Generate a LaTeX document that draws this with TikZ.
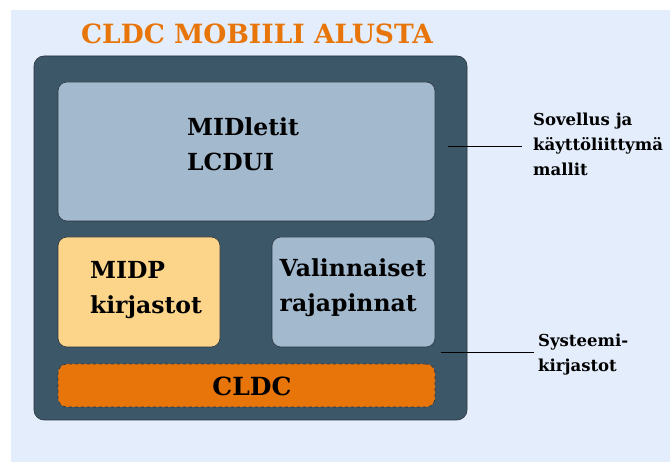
\documentclass[tikz,border=0pt]{standalone}
\usepackage{fontspec}
\setmainfont{DejaVu Serif}
\definecolor{pagebg}{HTML}{E3EDFB}
\definecolor{slate}{HTML}{3C5768}
\definecolor{paleblue}{HTML}{A3B9CE}
\definecolor{sand}{HTML}{FDD58A}
\definecolor{tangerine}{HTML}{E8750A}
\definecolor{edge}{HTML}{2A3440}
\begin{document}
\begin{tikzpicture}[x=1pt,y=-1pt,
  panel/.style={draw=edge,line width=0.6pt,rounded corners=9pt,inner sep=0pt,anchor=center},
  boxtext/.style={font=\bfseries\fontsize{23.5}{35}\selectfont,align=left,text=black},
  sidetext/.style={font=\bfseries\fontsize{16.5}{25}\selectfont,align=left,text=black,anchor=west,inner sep=0pt},
  leader/.style={draw=black,line width=1pt}]
  \useasboundingbox (0,0) rectangle (670,462);
  \fill[white] (0,0) rectangle (670,462);
  \fill[pagebg] (11,10) rectangle (670,462);

  % title
  \node[font=\bfseries\fontsize{26.5}{30}\selectfont,text=tangerine] (title) at (257,34) {CLDC MOBIILI ALUSTA};

  % platform frame and its layers
  \node[panel,fill=slate,minimum width=433pt,minimum height=364pt,rounded corners=10pt] (frame) at (250.5,238) {};
  \node[panel,fill=paleblue,minimum width=377pt,minimum height=139pt] (apps) at (246.5,151.5) {};
  \node[boxtext,anchor=center] (appstext) at (243,144) {MIDletit\\LCDUI};
  \node[panel,fill=sand,minimum width=162pt,minimum height=110pt] (midp) at (139,292) {};
  \node[boxtext] (midptext) at (146,290) {MIDP\\kirjastot};
  \node[panel,fill=paleblue,minimum width=163pt,minimum height=110pt] (opt) at (353.5,292) {};
  \node[boxtext] (opttext) at (353,288) {Valinnaiset\\rajapinnat};
  \node[panel,fill=tangerine,dashed,minimum width=377pt,minimum height=43pt] (cldc) at (246.5,385.5) {};
  \node[boxtext,font=\bfseries\fontsize{25}{30}\selectfont] (cldctext) at (252,386) {CLDC};

  % side labels with leader lines
  \node[sidetext] (lblapp) at (533,144) {Sovellus ja\\käyttöliittymä\\mallit};
  \node[sidetext] (lblsys) at (538,355) {Systeemi-\\kirjastot};
  \coordinate (pa) at (448,147);
  \coordinate (pb) at (441,353);
  \draw[leader] (pa) -- ([xshift=-11pt]pa -| lblapp.west);
  \draw[leader] (pb) -- ([xshift=-4pt]pb -| lblsys.west);
\end{tikzpicture}
\end{document}
